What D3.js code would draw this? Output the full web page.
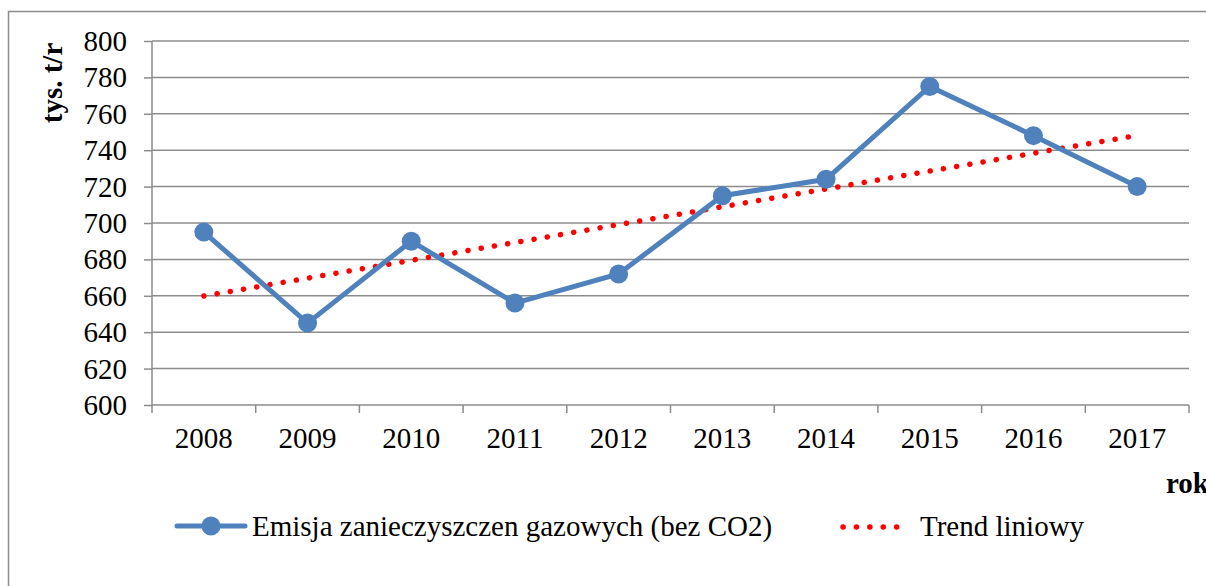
<!DOCTYPE html>
<html>
<head>
<meta charset="utf-8">
<script src="https://cdn.jsdelivr.net/npm/d3@7"></script>
<style>
  body { margin: 0; background: #fff; }
</style>
</head>
<body>
<svg id="chart" width="1206" height="586"></svg>
<script>
var years = ["2008", "2009", "2010", "2011", "2012", "2013", "2014", "2015", "2016", "2017"];
var emisja = [695, 645, 690, 656, 672, 715, 724, 775, 748, 720];
var yTicks = [600, 620, 640, 660, 680, 700, 720, 740, 760, 780, 800];
var seriesName = "Emisja zanieczyszczen gazowych (bez CO2)";
var trendName = "Trend liniowy";

var svg = d3.select("#chart"),
    margin = { left: 152, right: 17, top: 41, bottom: 181 },
    width = +svg.attr("width"),
    height = +svg.attr("height");

var gridColor = "#8c8c8c",
    blue = "#4f81bd",
    serif = "'Liberation Serif', 'Times New Roman', serif";

function txt(sel, bold) {
    return sel.style("font-family", serif)
        .style("font-size", "29px")
        .style("font-weight", bold ? "bold" : "normal")
        .attr("fill", "#000");
}

// outer chart frame (cut off at right / bottom like the source)
svg.append("rect")
    .attr("x", 8.5).attr("y", 11.5)
    .attr("width", 1220).attr("height", 600)
    .attr("fill", "none")
    .attr("stroke", gridColor)
    .attr("stroke-width", 1.5);

var x = d3.scaleBand()
    .domain(years)
    .range([margin.left, width - margin.right]);

var y = d3.scaleLinear()
    .domain([600, 800])
    .range([height - margin.bottom, margin.top]);

// gridlines
svg.append("g")
    .selectAll("line")
    .data(yTicks.slice(1))
    .enter().append("line")
    .attr("x1", margin.left).attr("x2", width - margin.right)
    .attr("y1", function(d) { return y(d); })
    .attr("y2", function(d) { return y(d); })
    .attr("stroke", gridColor)
    .attr("stroke-width", 1.5);

// y axis
var yAxis = svg.append("g")
    .attr("transform", "translate(" + margin.left + ",0)")
    .call(d3.axisLeft(y).tickValues(yTicks).tickSize(8).tickPadding(17));
yAxis.select(".domain").attr("stroke", gridColor).attr("stroke-width", 1.5)
    .attr("d", "M0," + y(800) + "V" + y(600));
yAxis.selectAll(".tick line").attr("stroke", gridColor).attr("stroke-width", 1.5);
txt(yAxis.selectAll(".tick text"), false).attr("dy", "0.33em");

// x axis
var xAxisG = svg.append("g")
    .attr("transform", "translate(0," + y(600) + ")");
xAxisG.append("line")
    .attr("x1", margin.left).attr("x2", width - margin.right)
    .attr("stroke", gridColor).attr("stroke-width", 1.5);
var edges = years.map(function(d) { return x(d); }).concat([x(years[years.length - 1]) + x.bandwidth()]);
xAxisG.selectAll("line.tk")
    .data(edges)
    .enter().append("line")
    .attr("class", "tk")
    .attr("x1", function(d) { return d; }).attr("x2", function(d) { return d; })
    .attr("y1", 0).attr("y2", 8)
    .attr("stroke", gridColor).attr("stroke-width", 1.5);
txt(xAxisG.selectAll("text")
    .data(years)
    .enter().append("text")
    .attr("x", function(d) { return x(d) + x.bandwidth() / 2; })
    .attr("y", 43)
    .attr("text-anchor", "middle")
    .text(function(d) { return d; }), false);

// axis titles
txt(svg.append("text")
    .attr("transform", "translate(62,83) rotate(-90)")
    .attr("text-anchor", "middle")
    .text("tys. t/r"), true);

txt(svg.append("text")
    .attr("x", 1166).attr("y", 493)
    .text("rok"), true);

// linear trend (least squares, like the spreadsheet trendline)
var idx = d3.range(emisja.length),
    mx = d3.mean(idx),
    my = d3.mean(emisja),
    slope = d3.sum(idx, function(i) { return (i - mx) * (emisja[i] - my); }) /
            d3.sum(idx, function(i) { return (i - mx) * (i - mx); }),
    icpt = my - slope * mx;

var cx = function(i) { return x(years[i]) + x.bandwidth() / 2; };

svg.append("line")
    .attr("x1", cx(0)).attr("y1", y(icpt))
    .attr("x2", cx(years.length - 1)).attr("y2", y(icpt + slope * (years.length - 1)))
    .attr("stroke", "#ff0000")
    .attr("stroke-width", 5.5)
    .attr("stroke-linecap", "round")
    .attr("stroke-dasharray", "0.1 13.3");

// data series
var line = d3.line()
    .x(function(d, i) { return cx(i); })
    .y(function(d) { return y(d); });

svg.append("path")
    .datum(emisja)
    .attr("d", line)
    .attr("fill", "none")
    .attr("stroke", blue)
    .attr("stroke-width", 5);

svg.append("g")
    .selectAll("circle")
    .data(emisja)
    .enter().append("circle")
    .attr("cx", function(d, i) { return cx(i); })
    .attr("cy", function(d) { return y(d); })
    .attr("r", 9.5)
    .attr("fill", blue);

// legend
var leg = svg.append("g");
leg.append("line")
    .attr("x1", 177).attr("x2", 245).attr("y1", 526).attr("y2", 526)
    .attr("stroke", blue).attr("stroke-width", 5).attr("stroke-linecap", "round");
leg.append("circle").attr("cx", 211).attr("cy", 526).attr("r", 9.5).attr("fill", blue);
txt(leg.append("text")
    .attr("x", 252).attr("y", 536)
    .text(seriesName), false);

leg.append("line")
    .attr("x1", 843).attr("x2", 907).attr("y1", 527).attr("y2", 527)
    .attr("stroke", "#ff0000").attr("stroke-width", 5.5)
    .attr("stroke-linecap", "round").attr("stroke-dasharray", "0.1 13.3");
txt(leg.append("text")
    .attr("x", 920).attr("y", 536)
    .text(trendName), false);
</script>
</body>
</html>
